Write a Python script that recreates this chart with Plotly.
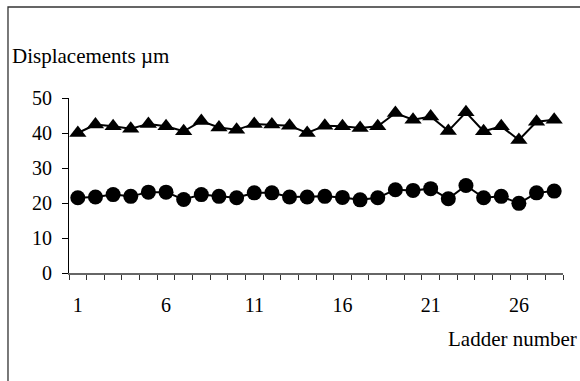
import plotly.graph_objects as go

ladder = list(range(1, 29))
upper_um = [40.0, 42.4, 41.9, 41.2, 42.6, 41.9, 40.5, 43.4, 41.6, 40.9,
            42.6, 42.4, 42.1, 40.0, 42.1, 41.9, 41.4, 41.9, 45.7, 43.8,
            44.7, 40.6, 45.9, 40.5, 41.9, 38.0, 43.2, 43.8]
lower_um = [21.5, 21.7, 22.4, 21.9, 23.1, 23.1, 21.0, 22.4, 21.9, 21.5,
            22.9, 22.9, 21.7, 21.7, 21.9, 21.6, 20.9, 21.5, 23.8, 23.6,
            24.1, 21.2, 25.0, 21.5, 21.9, 19.9, 22.9, 23.4]
x_tick_vals = [1, 6, 11, 16, 21, 26]
y_tick_vals = [0, 10, 20, 30, 40, 50]

FONT = "Liberation Serif"

fig = go.Figure()
fig.add_trace(go.Scatter(
    x=ladder, y=upper_um, mode="lines+markers",
    line=dict(color="black", width=2),
    marker=dict(symbol="triangle-up", size=15, color="black"),
    showlegend=False))
fig.add_trace(go.Scatter(
    x=ladder, y=lower_um, mode="lines+markers",
    line=dict(color="black", width=2),
    marker=dict(symbol="circle", size=15, color="black"),
    showlegend=False))

fig.update_layout(
    width=580, height=381,
    margin=dict(l=69, r=17, t=98, b=108),
    paper_bgcolor="white", plot_bgcolor="white",
    font=dict(family=FONT, size=20, color="black"),
    xaxis=dict(
        range=[0.5, 28.5], tickmode="array", tickvals=x_tick_vals,
        ticktext=[str(v) for v in x_tick_vals], ticks="",
        showgrid=False, zeroline=False,
        showline=True, linecolor="#666666", linewidth=1.5,
        ticklabelstandoff=13,
        minor=dict(tickmode="linear", tick0=0.5, dtick=1, ticks="outside",
                   ticklen=5, tickwidth=1, tickcolor="#333333", showgrid=False),
    ),
    yaxis=dict(
        range=[0, 50], tickmode="array", tickvals=y_tick_vals,
        ticks="outside", ticklen=6, tickwidth=1, tickcolor="black",
        showgrid=False, zeroline=False,
        showline=True, linecolor="black", linewidth=1,
        ticklabelstandoff=6,
    ),
    shapes=[dict(type="rect", xref="paper", yref="paper",
                 x0=-0.1235, x1=1.2, y0=-0.8, y1=1.52,
                 line=dict(color="#333333", width=1.3), layer="below")],
    annotations=[
        dict(text="Displacements µm", xref="paper", yref="paper",
             x=-0.119, y=1.242, xanchor="left", yanchor="middle",
             showarrow=False, font=dict(family=FONT, size=21)),
        dict(text="Ladder number", xref="paper", yref="paper",
             x=1.032, y=-0.376, xanchor="right", yanchor="middle",
             showarrow=False, font=dict(family=FONT, size=21)),
    ],
)

fig.write_html("out.html",
               config={"displayModeBar": False, "staticPlot": True},
               post_script="document.body.style.margin='0';"
                           "document.body.style.overflow='hidden';")
